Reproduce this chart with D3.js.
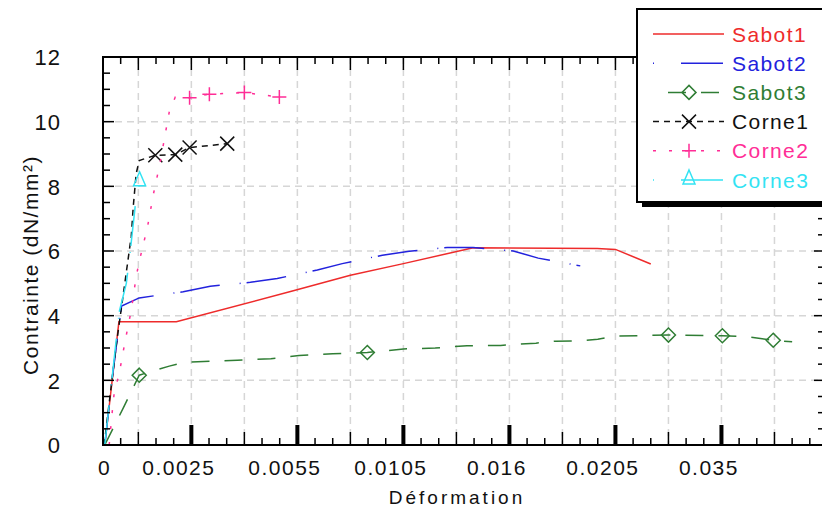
<!DOCTYPE html>
<html>
<head>
<meta charset="utf-8">
<script src="https://cdn.jsdelivr.net/npm/d3@7"></script>
<style>
  body { margin: 0; background: #fff; }
  text { font-family: "Liberation Sans", Arial, sans-serif; }
</style>
</head>
<body>
<div id="chart"></div>
<script>
// x values are in minor-tick steps of the original (non linear) deformation axis
const xLabels = ["0", "0.0025", "0.0055", "0.0105", "0.016", "0.0205", "0.035"];
const xLabelPos = [0, 5, 11, 17, 23, 29, 35];
const yTicks = [0, 2, 4, 6, 8, 10, 12];

const sabot1 = [[0.1,0],[0.9,3.81],[4.15,3.81],[10.77,4.77],[14.0,5.25],[17.0,5.61],[20.95,6.1],[27.97,6.08],[29.0,6.05],[31.0,5.6]];
const sabot2 = [[0.1,0],[0.55,2.2],[1.05,4.3],[2.05,4.55],[4.54,4.74],[6.07,4.91],[8.34,5.03],[9.86,5.15],[12.13,5.41],[13.54,5.61],[15.81,5.87],[17.33,5.99],[19.48,6.11],[20.95,6.11],[23.22,6.0],[24.63,5.78],[27.01,5.54]];
const sabot3 = [[0.1,0],[1.15,1.15],[2.05,2.16],[3.75,2.44],[4.6,2.56],[5.7,2.58],[7.6,2.62],[9.5,2.67],[11.1,2.77],[13.0,2.82],[14.96,2.86],[17.0,2.97],[18.8,3.0],[20.6,3.07],[22.5,3.08],[24.5,3.15],[25.6,3.21],[27.0,3.22],[28.0,3.27],[29.0,3.37],[32.0,3.4],[35.05,3.38],[36.5,3.35],[37.93,3.24],[39.0,3.19]];
const corne1 = [[0.07,0],[0.3,1.08],[0.75,3.09],[1.08,4.39],[1.6,6.46],[1.71,7.36],[1.88,8.4],[2.05,8.8],[2.96,8.96],[4.09,8.98],[4.9,9.2],[7.03,9.32]];
const corne2 = [[0.35,0],[0.5,0.9],[0.64,1.65],[0.9,2.16],[1.24,3.18],[1.6,4.17],[1.88,5.22],[2.07,5.72],[2.52,6.75],[2.86,7.78],[3.24,8.75],[3.58,9.79],[3.75,10.3],[4.09,10.76],[4.9,10.74],[6.02,10.85],[8.0,10.9],[9.98,10.76]];
const corne3 = [[0.1,0],[0.5,2.0],[0.92,4.12],[1.32,5.0],[1.55,6.03],[1.88,7.67],[2.07,8.14]];

// which points carry a symbol
const sabot3Marks = [2, 10, 20, 21, 23];
const corne1Marks = [8, 9, 10, 11];
const corne2Marks = [14, 15, 16, 17];
const corne3Marks = [6];

const series = [
  {name: "Sabot1", data: sabot1, marks: [], color: "#ee2b2b", dash: null, legDash: null, legOff: 0, sym: null},
  {name: "Sabot2", data: sabot2, marks: [], color: "#2222dd", dash: "40,20,1,6", legDash: "1,27,42", legOff: 0, sym: null},
  {name: "Sabot3", data: sabot3, marks: sabot3Marks, color: "#2f7d34", dash: "18,15", legDash: "18,15", legOff: 18, sym: "diamond"},
  {name: "Corne1", data: corne1, marks: corne1Marks, color: "#111111", dash: "6,5", legDash: "6,5", legOff: 0, sym: "times"},
  {name: "Corne2", data: corne2, marks: corne2Marks, color: "#ff2d96", dash: "3,13", legDash: "3,13", legOff: 0, sym: "plus"},
  {name: "Corne3", data: corne3, marks: corne3Marks, color: "#33e3f3", dash: "40,20,1,6", legDash: "1,27,42", legOff: 0, sym: "triangle"}
];

var width = 822, height = 511;
var plot = {left: 103, right: 825, top: 57, bottom: 445};

var svg = d3.select("#chart")
  .append("svg")
    .attr("width", width)
    .attr("height", height);

var x = d3.scaleLinear().domain([0, 40.86]).range([plot.left, plot.right]);
var y = d3.scaleLinear().domain([0, 12]).range([plot.bottom, plot.top]);

function symbolPath(type) {
  if (type == "diamond") return "M0,-7L7,0L0,7L-7,0Z";
  if (type == "times") return "M-7,-7L7,7M-7,7L7,-7";
  if (type == "plus") return "M-7,0H7M0,-7V7";
  if (type == "triangle") return "M0,-10L6,4L-6,4Z";
  return "";
}

// grid
var grid = svg.append("g")
  .attr("stroke", "#d6d6d6")
  .attr("stroke-width", 1.5)
  .attr("stroke-dasharray", "7,5");
grid.selectAll("line.h")
  .data([2, 4, 6, 8, 10])
  .enter().append("line")
    .attr("x1", plot.left).attr("x2", plot.right)
    .attr("y1", d => y(d)).attr("y2", d => y(d));
grid.selectAll("line.v")
  .data(d3.range(2, 40, 3))
  .enter().append("line")
    .attr("x1", d => x(d)).attr("x2", d => x(d))
    .attr("y1", plot.top).attr("y2", plot.bottom);

// curves
var line = d3.line()
  .x(d => x(d[0]))
  .y(d => y(d[1]));

series.forEach(function(s) {
  svg.append("path")
    .datum(s.data)
    .attr("d", line)
    .attr("fill", "none")
    .attr("stroke", s.color)
    .attr("stroke-width", 1.5)
    .attr("stroke-dasharray", s.dash);

  svg.selectAll(null)
    .data(s.marks.map(i => s.data[i]))
    .enter().append("path")
      .attr("d", symbolPath(s.sym))
      .attr("transform", d => "translate(" + x(d[0]) + "," + y(d[1]) + ")")
      .attr("fill", "none")
      .attr("stroke", s.color)
      .attr("stroke-width", 1.5);
});

// frame + ticks
svg.append("rect")
  .attr("x", plot.left).attr("y", plot.top)
  .attr("width", plot.right - plot.left)
  .attr("height", plot.bottom - plot.top)
  .attr("fill", "none")
  .attr("stroke", "#000")
  .attr("stroke-width", 2);

var ticks = svg.append("g").attr("stroke", "#000").attr("stroke-width", 1.5);
var kSteps = d3.range(1, 41);
ticks.selectAll("line.b")
  .data(kSteps.filter(k => k % 6 != 5))
  .enter().append("line")
    .attr("x1", d => x(d)).attr("x2", d => x(d))
    .attr("y1", plot.bottom)
    .attr("y2", d => plot.bottom - (d % 6 == 2 ? 13 : 7));
svg.selectAll("rect.major")
  .data(kSteps.filter(k => k % 6 == 5))
  .enter().append("rect")
    .attr("x", d => x(d) - 2)
    .attr("y", plot.bottom - 20)
    .attr("width", 4)
    .attr("height", 20)
    .attr("fill", "#000");
ticks.selectAll("line.t")
  .data(kSteps)
  .enter().append("line")
    .attr("x1", d => x(d)).attr("x2", d => x(d))
    .attr("y1", plot.top)
    .attr("y2", d => plot.top + (d % 3 == 2 ? 13 : 7));

var ySteps = d3.range(0.5, 12, 0.5);
ticks.selectAll("line.l")
  .data(ySteps)
  .enter().append("line")
    .attr("x1", plot.left)
    .attr("x2", d => plot.left + (d % 2 == 0 ? 11 : 7))
    .attr("y1", d => y(d)).attr("y2", d => y(d));
ticks.selectAll("line.r")
  .data(ySteps)
  .enter().append("line")
    .attr("x1", plot.right)
    .attr("x2", d => plot.right - (d % 2 == 0 ? 11 : 7))
    .attr("y1", d => y(d)).attr("y2", d => y(d));

// tick labels
var yAxis = svg.append("g")
  .attr("transform", "translate(61,0)")
  .call(d3.axisLeft(y).tickValues(yTicks).tickSize(0).tickPadding(0));
yAxis.select(".domain").remove();
yAxis.selectAll("text")
  .attr("dy", "0.36em")
  .style("font-size", "22px")
  .style("letter-spacing", "1px")
  .attr("fill", "#111");

var xAxis = svg.append("g")
  .attr("transform", "translate(0,467)")
  .call(d3.axisBottom(x).tickValues(xLabelPos).tickFormat((d, i) => xLabels[i]).tickSize(0).tickPadding(0));
xAxis.select(".domain").remove();
xAxis.selectAll("text")
  .attr("y", 0)
  .attr("dy", "0.36em")
  .attr("dx", d => d == 0 ? 1 : -13)
  .style("font-size", "21px")
  .style("letter-spacing", "1.5px")
  .attr("fill", "#111");

svg.append("text")
  .attr("x", 457).attr("y", 497)
  .attr("dy", "0.36em")
  .attr("text-anchor", "middle")
  .style("font-size", "19px")
  .style("letter-spacing", "3px")
  .attr("fill", "#111")
  .text("Déformation");

svg.append("text")
  .attr("transform", "translate(30,265) rotate(-90)")
  .attr("dy", "0.36em")
  .attr("text-anchor", "middle")
  .style("font-size", "21px")
  .style("letter-spacing", "1.5px")
  .attr("fill", "#111")
  .text("Contrainte (dN/mm²)");

// legend
var leg = svg.append("g");
leg.append("rect")
  .attr("x", 642).attr("y", 14)
  .attr("width", 200).attr("height", 193)
  .attr("fill", "#000");
leg.append("rect")
  .attr("x", 637).attr("y", 9)
  .attr("width", 200).attr("height", 193)
  .attr("fill", "#fff")
  .attr("stroke", "#000")
  .attr("stroke-width", 2);

var rows = leg.selectAll("g.row")
  .data(series)
  .enter().append("g")
    .attr("transform", (d, i) => "translate(0," + (34 + i * 29.2) + ")");
rows.append("line")
  .attr("x1", 653).attr("x2", 724)
  .attr("stroke", d => d.color)
  .attr("stroke-width", 1.5)
  .attr("stroke-dasharray", d => d.legDash)
  .attr("stroke-dashoffset", d => d.legOff);
rows.filter(d => d.sym)
  .append("path")
    .attr("d", d => symbolPath(d.sym))
    .attr("transform", "translate(689,0)")
    .attr("fill", "none")
    .attr("stroke", d => d.color)
    .attr("stroke-width", 1.5);
rows.append("text")
  .attr("x", 732)
  .attr("dy", "0.36em")
  .style("font-size", "21px")
  .style("letter-spacing", "1.4px")
  .attr("fill", d => d.color)
  .text(d => d.name);
</script>
</body>
</html>
